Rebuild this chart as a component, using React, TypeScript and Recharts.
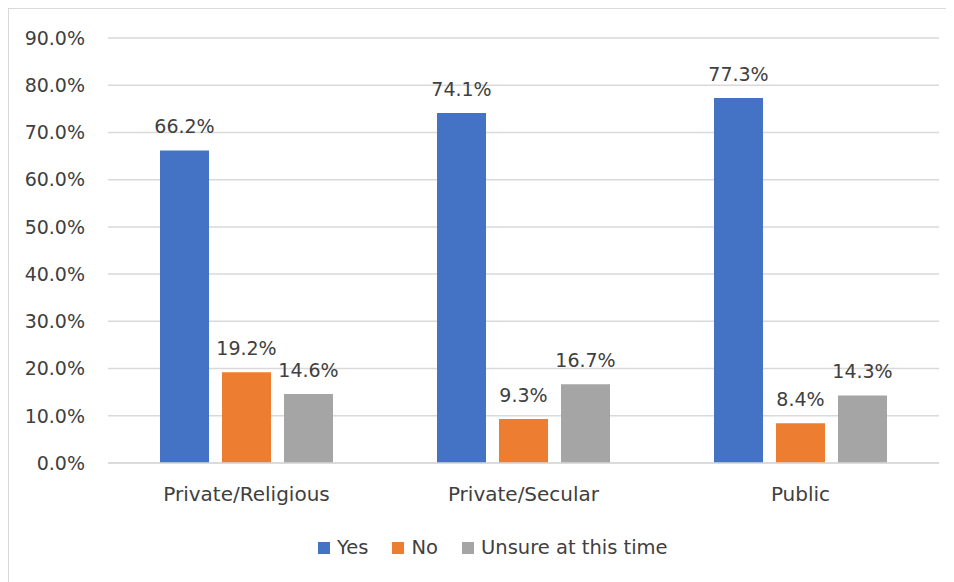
import React from "react";
import { BarChart, Bar, XAxis, YAxis, CartesianGrid, Legend, LabelList } from "recharts";

const categories = ["Private/Religious", "Private/Secular", "Public"];
const yesValues = [66.2, 74.1, 77.3];
const noValues = [19.2, 9.3, 8.4];
const unsureValues = [14.6, 16.7, 14.3];
const yTicks = [0, 10, 20, 30, 40, 50, 60, 70, 80, 90];
const seriesNames = ["Yes", "No", "Unsure at this time"];

const COLORS = ["#4472C4", "#ED7D31", "#A5A5A5"];
const FONT = "'DejaVu Sans', sans-serif";
const TEXT = "#404040";

const data = categories.map((c, i) => ({
  category: c,
  yes: yesValues[i],
  no: noValues[i],
  unsure: unsureValues[i],
}));

const fmt = (v: number) => `${Number(v).toFixed(1)}%`;

const LegendContent = () => (
  <div style={{ display: "flex", alignItems: "center", fontFamily: FONT, fontSize: 19.5, color: TEXT, whiteSpace: "nowrap" }}>
    {seriesNames.map((n, i) => (
      <div key={n} style={{ display: "flex", alignItems: "center", marginRight: 24 }}>
        <span style={{ display: "inline-block", width: 12, height: 12, background: COLORS[i], marginRight: 7 }} />
        <span>{n}</span>
      </div>
    ))}
  </div>
);

export default function App() {
  return (
    <div
      style={{
        width: 946,
        height: 574,
        borderTop: "1px solid #d9d9d9",
        borderLeft: "1px solid #d9d9d9",
        boxSizing: "border-box",
        background: "#fff",
        fontFamily: FONT,
      }}
    >
      <BarChart
        width={945}
        height={573}
        data={data}
        margin={{ top: 29, right: 15, bottom: 79, left: 0 }}
        barSize={49}
        barGap={13}
      >
        <CartesianGrid vertical={false} stroke="#d9d9d9" strokeWidth={1.5} />
        <XAxis
          dataKey="category"
          height={40}
          axisLine={{ stroke: "#d9d9d9", strokeWidth: 1.5 }}
          tickLine={false}
          tickSize={6}
          tickMargin={18}
          tick={{ fill: TEXT, fontSize: 20, fontFamily: FONT }}
        />
        <YAxis
          width={99}
          domain={[0, 90]}
          ticks={yTicks}
          tickFormatter={fmt}
          axisLine={false}
          tickLine={false}
          tickSize={6}
          tickMargin={17}
          tick={{ fill: TEXT, fontSize: 19, fontFamily: FONT }}
        />
        <Legend
          layout="horizontal"
          verticalAlign="middle"
          align="center"
          wrapperStyle={{ left: 309, top: 527, width: 450, height: 30 }}
          content={<LegendContent />}
        />
        <Bar dataKey="yes" name="Yes" fill={COLORS[0]} isAnimationActive={false}>
          <LabelList dataKey="yes" position="top" offset={17} formatter={fmt} fill={TEXT} fontSize={19} fontFamily={FONT} />
        </Bar>
        <Bar dataKey="no" name="No" fill={COLORS[1]} isAnimationActive={false}>
          <LabelList dataKey="no" position="top" offset={17} formatter={fmt} fill={TEXT} fontSize={19} fontFamily={FONT} />
        </Bar>
        <Bar dataKey="unsure" name="Unsure at this time" fill={COLORS[2]} isAnimationActive={false}>
          <LabelList dataKey="unsure" position="top" offset={17} formatter={fmt} fill={TEXT} fontSize={19} fontFamily={FONT} />
        </Bar>
      </BarChart>
    </div>
  );
}
